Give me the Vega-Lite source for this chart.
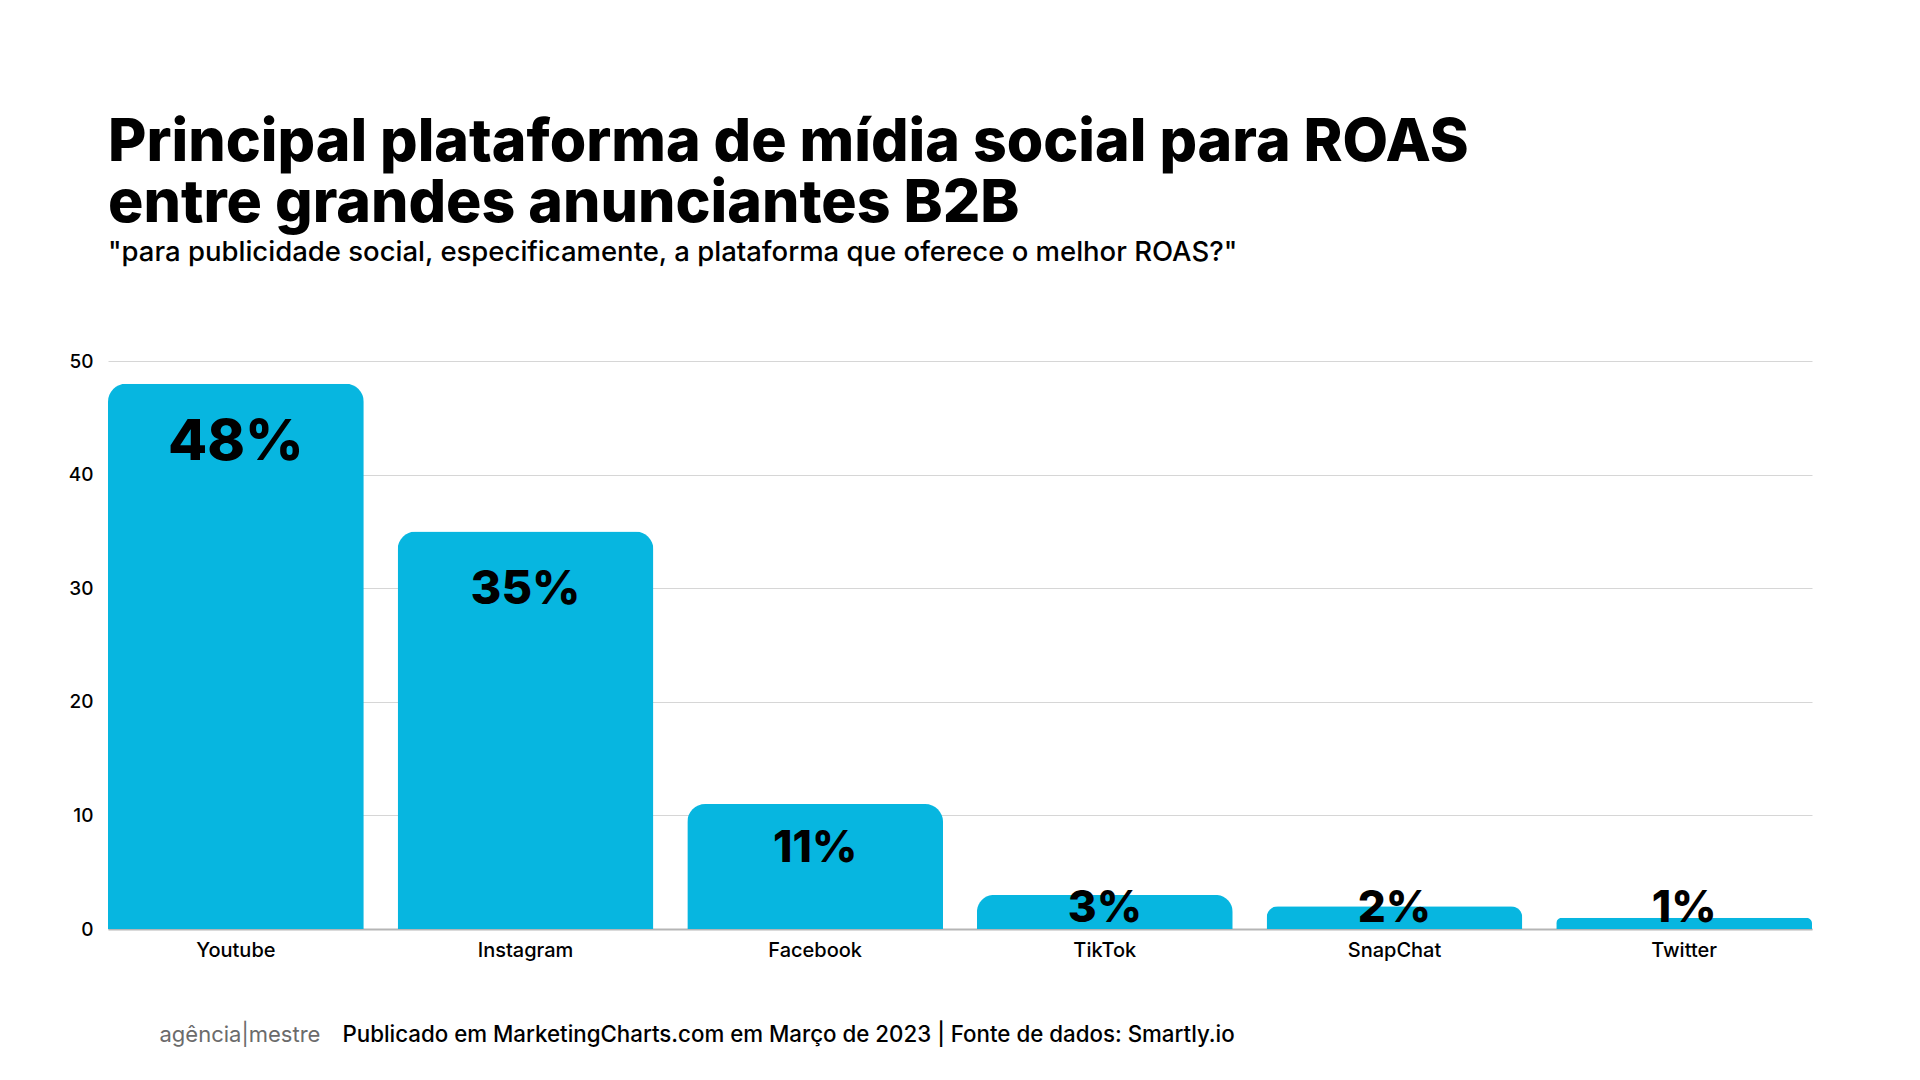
{
  "$schema": "https://vega.github.io/schema/vega-lite/v6.json",
  "autosize": {"type": "none"},
  "width": 1704,
  "height": 568,
  "padding": {"left": 108, "top": 361, "right": 108, "bottom": 151},
  "background": "white",
  "config": {"view": {"stroke": null}},
  "title": {
    "text": ["Principal plataforma de mídia social para ROAS", "entre grandes anunciantes B2B"],
    "subtitle": "\"para publicidade social, especificamente, a plataforma que oferece o melhor ROAS?\"",
    "anchor": "start",
    "frame": "group",
    "font": "Inter",
    "fontWeight": 800,
    "fontSize": 59,
    "lineHeight": 61,
    "color": "#000000",
    "subtitleFont": "Inter",
    "subtitleFontWeight": 500,
    "subtitleFontSize": 27.5,
    "subtitleColor": "#000000",
    "subtitlePadding": 5,
    "offset": 86
  },
  "data": {
    "values": [
      {"platform": "Youtube", "value": 48, "label": "48%"},
      {"platform": "Instagram", "value": 35, "label": "35%"},
      {"platform": "Facebook", "value": 11, "label": "11%"},
      {"platform": "TikTok", "value": 3, "label": "3%"},
      {"platform": "SnapChat", "value": 2, "label": "2%"},
      {"platform": "Twitter", "value": 1, "label": "1%"}
    ]
  },
  "encoding": {
    "x": {
      "field": "platform",
      "type": "nominal",
      "sort": null,
      "scale": {"paddingInner": 0.117, "paddingOuter": 0},
      "axis": {
        "title": "Publicado em MarketingCharts.com em Março de 2023 | Fonte de dados: Smartly.io",
        "titleFont": "Inter",
        "titleFontWeight": 500,
        "titleFontSize": 22.3,
        "titleColor": "#000000",
        "titleAnchor": "start",
        "titleAlign": "left",
        "titleBaseline": "alphabetic",
        "titleX": 234,
        "titleY": 112,
        "labelAngle": 0,
        "labelFont": "Inter",
        "labelFontSize": 20,
        "labelFontWeight": 500,
        "labelColor": "#000000",
        "labelPadding": 11,
        "ticks": false,
        "domainColor": "#b5b5b5",
        "domainWidth": 2
      }
    },
    "y": {
      "field": "value",
      "type": "quantitative",
      "scale": {"domain": [0, 50], "nice": false},
      "axis": {
        "values": [0, 10, 20, 30, 40, 50],
        "title": "agência|mestre",
        "titleAngle": 0,
        "titleFont": "Inter",
        "titleFontWeight": 400,
        "titleFontSize": 22,
        "titleColor": "#6b6b6b",
        "titleAlign": "left",
        "titleBaseline": "alphabetic",
        "titleX": 51,
        "titleY": 680,
        "labelFont": "Inter",
        "labelFontSize": 19,
        "labelFontWeight": 500,
        "labelColor": "#000000",
        "labelPadding": 15,
        "ticks": false,
        "domain": false,
        "gridColor": "#d6d6d6",
        "gridWidth": 1
      }
    }
  },
  "layer": [
    {
      "mark": {"type": "bar", "color": "#07b6e0", "cornerRadiusTopLeft": 18, "cornerRadiusTopRight": 18}
    },
    {
      "transform": [{"filter": "datum.value >= 30"}],
      "mark": {"type": "text", "font": "Inter", "fontWeight": 800, "baseline": "middle", "dy": 59, "color": "#000000"},
      "encoding": {
        "text": {"field": "label"},
        "size": {"condition": {"test": "datum.value > 40", "value": 57}, "value": 47}
      }
    },
    {
      "transform": [{"filter": "datum.value >= 10 && datum.value < 30"}],
      "mark": {"type": "text", "font": "Inter", "fontWeight": 800, "baseline": "middle", "dy": 45, "fontSize": 44, "color": "#000000"},
      "encoding": {
        "text": {"field": "label"}
      }
    },
    {
      "transform": [{"filter": "datum.value < 10"}],
      "mark": {"type": "text", "font": "Inter", "fontWeight": 800, "baseline": "middle", "fontSize": 44, "color": "#000000"},
      "encoding": {
        "y": {"datum": 1.8},
        "text": {"field": "label"}
      }
    }
  ]
}
